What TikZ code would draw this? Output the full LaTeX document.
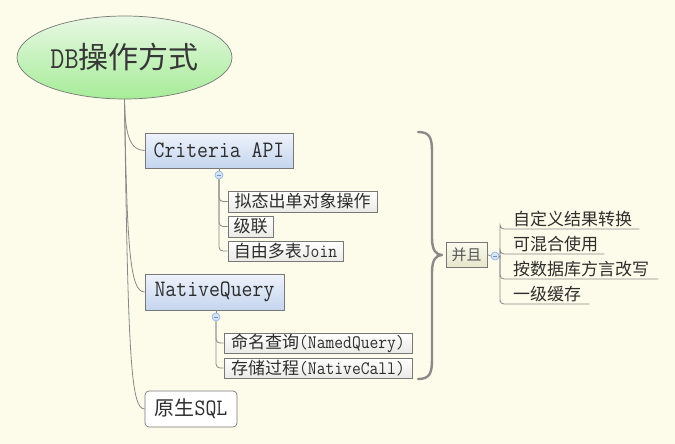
\documentclass[tikz,border=0pt]{standalone}
\usepackage{fontspec}
\newfontfamily\cjk{Noto Sans CJK SC}
\setmonofont{Latin Modern Mono}[FakeStretch=0.9]
\newcommand\cjkat[2]{{\cjk\fontsize{#1}{#1}\selectfont #2}}
\usetikzlibrary{shapes.geometric}
\definecolor{bgc}{RGB}{253,252,234}
\definecolor{linec}{RGB}{136,136,136}
\definecolor{txt}{RGB}{45,45,45}
\definecolor{bordc}{RGB}{120,120,120}
\definecolor{topA}{RGB}{238,243,251}
\definecolor{topB}{RGB}{196,213,238}
\definecolor{subB}{RGB}{234,234,230}
\definecolor{togD}{RGB}{143,174,221}
\definecolor{togF}{RGB}{214,228,247}
\definecolor{togM}{RGB}{110,143,200}
\definecolor{rootA}{RGB}{232,248,228}
\definecolor{rootB}{RGB}{166,236,152}
\definecolor{rootT}{RGB}{55,55,55}
\definecolor{braceC}{RGB}{138,138,138}
\definecolor{andA}{RGB}{251,251,240}
\definecolor{andB}{RGB}{230,230,204}
\definecolor{andT}{RGB}{85,85,85}
\begin{document}
\begin{tikzpicture}[x=1pt,y=-1pt,
  conn/.style={draw=linec, line width=0.8pt},
  topic/.style={draw=bordc, line width=0.7pt, inner sep=0pt, text=txt, font=\ttfamily\fontsize{23.5}{23.5}\selectfont,
     top color=topA, bottom color=topB},
  sub/.style={draw=bordc, line width=0.7pt, inner sep=0pt, text=txt, font=\ttfamily\fontsize{19}{19}\selectfont,
     top color=white, bottom color=subB},
  toggle/.style={circle, draw=togD, fill=togF,
     minimum size=8pt, inner sep=0pt, line width=0.6pt,
     path picture={\draw[togM, line width=0.7pt]
        ([xshift=-2.2pt]path picture bounding box.center) -- ([xshift=2.2pt]path picture bounding box.center);}},
  rchild/.style={anchor=south west, inner xsep=0pt, inner ysep=1.5pt, text depth=2pt, align=left, text=txt,
     font=\cjk\fontsize{17}{17}\selectfont}
]
\useasboundingbox[fill=bgc] (0,0) rectangle (675,444);

% root
\node[ellipse, draw=bordc, line width=0.7pt, minimum width=215pt, minimum height=83pt, inner sep=0pt,
      top color=rootA, bottom color=rootB,
      text=rootT, font=\ttfamily\fontsize{30.5}{30.5}\selectfont]
  (root) at (124.5,57.5) {DB\cjkat{30}{操作方式}};

% Criteria API
\node[topic, minimum width=148pt, minimum height=35pt] (crit) at (219,150.5) {Criteria API};
\node[toggle] (k1) at (219,175) {};
\node[sub, minimum width=149pt, minimum height=21pt] (a1) at (302.5,201.5) {\cjkat{17}{拟态出单对象操作}};
\node[sub, minimum width=45pt, minimum height=21pt] (a2) at (250.5,226.5) {\cjkat{17}{级联}};
\node[sub, minimum width=115pt, minimum height=20pt] (a3) at (285.5,251) {\cjkat{17}{自由多表}Join};

% NativeQuery
\node[topic, minimum width=139pt, minimum height=36pt] (nq) at (214.5,292) {NativeQuery};
\node[toggle] (k2) at (216,317) {};
\node[sub, minimum width=188pt, minimum height=20pt] (b1) at (318,343) {\cjkat{17}{命名查询}(NamedQuery)};
\node[sub, minimum width=188pt, minimum height=20pt] (b2) at (318,368) {\cjkat{17}{存储过程}(NativeCall)};

% SQL
\node[draw=bordc, line width=0.7pt, rounded corners=4pt, fill=white, inner sep=0pt, minimum width=92pt, minimum height=36pt,
      text=txt, font=\ttfamily\fontsize{23.5}{23.5}\selectfont] (sql) at (191,409) {\cjkat{20}{原生}SQL};

% trunk connectors
\draw[conn] (root.south) .. controls (125,135) and (130,150.5) .. (crit.west);
\draw[conn] (root.south) .. controls (127,250) and (130,292) .. (nq.west);
\draw[conn] (root.south) .. controls (128,360) and (131,409) .. (sql.west);

% sub connectors
\draw[conn] (crit.south) -- (k1.north);
\draw[conn, rounded corners=4pt] (k1.south) |- (a1.west);
\draw[conn, rounded corners=4pt] (k1.south) |- (a2.west);
\draw[conn, rounded corners=4pt] (k1.south) |- (a3.west);
\draw[conn] (k2.north) -- (k2.north |- nq.south);
\draw[conn, rounded corners=4pt] (k2.south) |- (b1.west);
\draw[conn, rounded corners=4pt] (k2.south) |- (b2.west);

% brace
\coordinate (btip) at (442,255);
\draw[draw=braceC, line width=2.4pt, line cap=round, line join=round]
  (418,132) .. controls (430,132) and (432,138) .. (432,152) -- (432,238)
  .. controls (432,250) and (436,255) .. (btip)
  .. controls (436,255) and (432,260) .. (432,272) -- (432,359)
  .. controls (432,373) and (430,379) .. (418,379);

% 并且
\node[draw=bordc, line width=0.7pt, inner sep=0pt, minimum width=41pt, minimum height=25pt,
      top color=andA, bottom color=andB,
      text=andT, font=\cjk\fontsize{15}{15}\selectfont] (bq) at (466.5,254.5) {并且};
\node[toggle] (k3) at (495,256) {};
\coordinate (jn) at (500,256);

\node[rchild, text width=139pt] (r1) at (500,229) {\hspace*{13pt}自定义结果转换};
\node[rchild, text width=104pt] (r2) at (500,254) {\hspace*{13pt}可混合使用};
\node[rchild, text width=158pt] (r3) at (500,279) {\hspace*{13pt}按数据库方言改写};
\node[rchild, text width=89pt] (r4) at (500,304) {\hspace*{13pt}一级缓存};

\draw[conn] (bq.east) -- (k3.west);
\draw[conn] (k3.east) -- (jn);
\draw[conn, rounded corners=4pt] (jn) |- (r1.south west) -- (r1.south east);
\draw[conn, rounded corners=4pt] (jn) |- (r2.south west) -- (r2.south east);
\draw[conn, rounded corners=4pt] (jn) |- (r3.south west) -- (r3.south east);
\draw[conn, rounded corners=4pt] (jn) |- (r4.south west) -- (r4.south east);
\end{tikzpicture}
\end{document}
